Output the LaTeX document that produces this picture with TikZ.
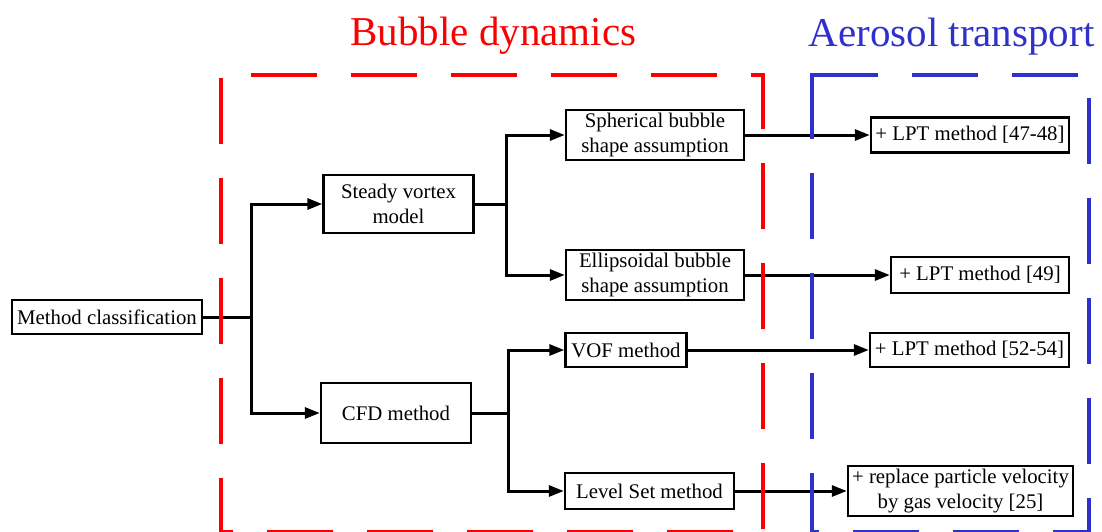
\documentclass[tikz,border=0pt]{standalone}
\usepackage{fontspec}
\setmainfont{Liberation Serif}
\usetikzlibrary{arrows.meta}
\definecolor{tred}{RGB}{250,0,0}
\definecolor{tblue}{RGB}{48,48,205}
\begin{document}
\begin{tikzpicture}[x=1pt,y=-1pt,
  box/.style={draw, line width=2.4pt, inner sep=0pt, align=center,
    font=\fontsize{20.8}{25}\selectfont},
  conn/.style={line width=3pt, -{Triangle[length=15pt,width=11pt]}},
  trunk/.style={line width=3pt},
  rdash/.style={draw=tred, line width=3.6pt, dash pattern=on 66pt off 34pt},
  bdash/.style={draw=tblue, line width=3.6pt, dash pattern=on 66pt off 34pt},
  title/.style={font=\fontsize{41}{48}\selectfont, inner sep=0pt}]
\useasboundingbox (0,0) rectangle (1102,531);

% titles
\node[title, text=tred, anchor=base] (t1) at (493.5,45) {Bubble dynamics};
\node[title, text=tblue, anchor=base] (t2) at (951.5,46) {Aerosol transport};

% boxes
\node[box, minimum width=190pt, minimum height=34pt] (method) at (107,317) {Method classification};
\node[box, minimum width=150pt, minimum height=58pt] (steady) at (398.5,204) {Steady vortex\\model};
\node[box, minimum width=150pt, minimum height=60pt] (cfd) at (396,413) {CFD method};
\node[box, minimum width=178pt, minimum height=50pt] (sph) at (655,135) {Spherical bubble\\shape assumption};
\node[box, minimum width=178pt, minimum height=50pt] (ell) at (655,275) {Ellipsoidal bubble\\shape assumption};
\node[box, minimum width=121pt, minimum height=34pt] (vof) at (626,350) {VOF method};
\node[box, minimum width=169pt, minimum height=36pt] (ls) at (649.5,491) {Level Set method};
\node[box, minimum width=198pt, minimum height=35pt] (lpt1) at (970,135) {+ LPT method [47-48]};
\node[box, minimum width=178pt, minimum height=36pt] (lpt2) at (980,275) {+ LPT method [49]};
\node[box, minimum width=199pt, minimum height=34pt] (lpt3) at (969.5,350) {+ LPT method [52-54]};
\node[box, minimum width=225pt, minimum height=50pt] (rep) at (960.5,491) {+ replace particle velocity\\by gas velocity [25]};

% junctions
\coordinate (j1) at (251,317);
\coordinate (j2) at (506,204);
\coordinate (j3) at (508,413);

% connectors
\draw[trunk] (method.east) -- (j1);
\draw[conn] (j1) |- (steady.west);
\draw[conn] (j1) |- (cfd.west);
\draw[trunk] (steady.east) -- (j2);
\draw[conn] (j2) |- (sph.west);
\draw[conn] (j2) |- (ell.west);
\draw[trunk] (cfd.east) -- (j3);
\draw[conn] (j3) |- (vof.west);
\draw[conn] (j3) |- (ls.west);
\draw[conn] (sph.east) -- (lpt1.west);
\draw[conn] (ell.east) -- (lpt2.west);
\draw[conn] (vof.east) -- (lpt3.west);
\draw[conn] (ls.east) -- (rep.west);

% dashed frames
\coordinate (rtl) at (221,75);
\coordinate (rtr) at (763,75);
\coordinate (rbl) at (221,532);
\coordinate (rbr) at (763,532);
\draw[rdash, dash phase=97pt] (rtl) -- (rbl) -- (rbr);
\draw[rdash, dash phase=70pt] (rtl) -- (rtr) -- (rbr);

\coordinate (btl) at (812,75);
\coordinate (btr) at (1089,75);
\coordinate (bbl) at (812,532);
\coordinate (bbr) at (1089,532);
\draw[bdash] (btl) -- (btr) -- (bbr);
\draw[bdash] ([yshift=1.8pt]btl) -- (bbl) -- (bbr);
\end{tikzpicture}
\end{document}
